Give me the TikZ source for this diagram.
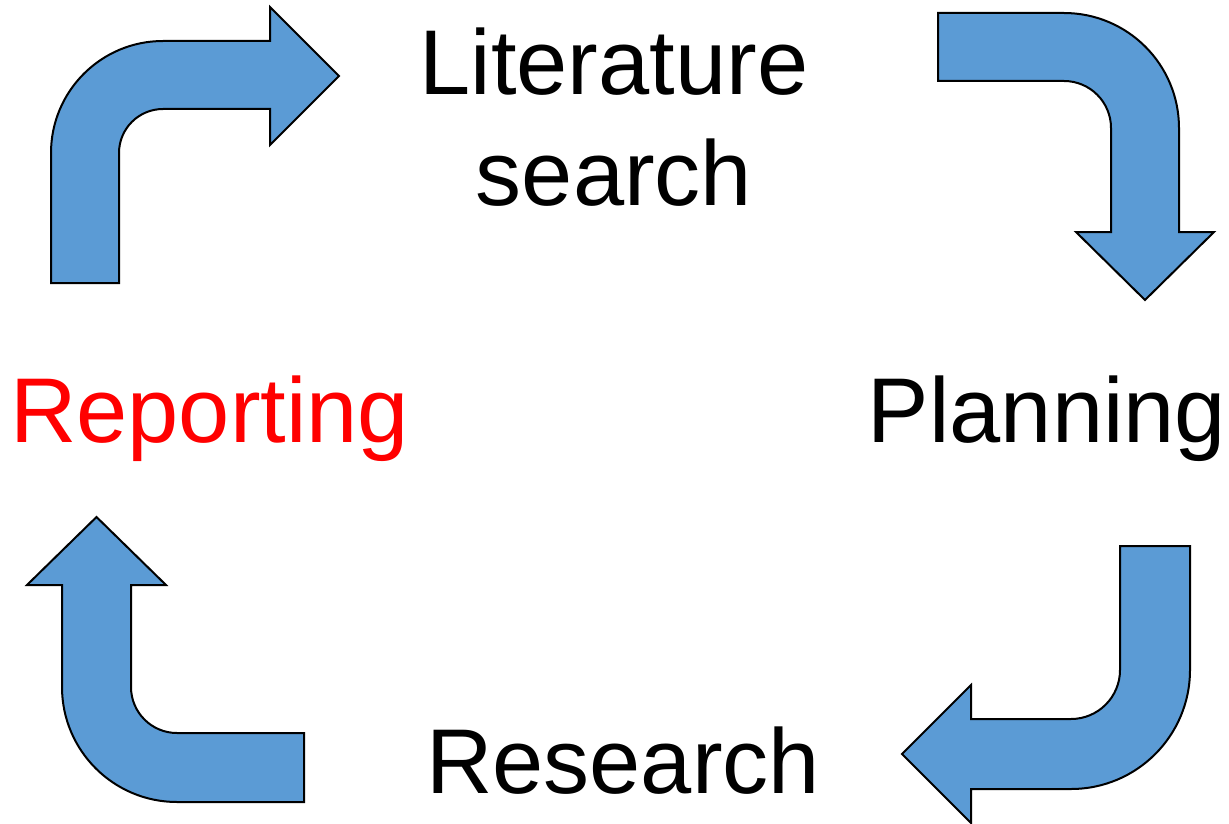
\documentclass[tikz,border=0pt]{standalone}
\usepackage{fontspec}
\setmainfont{Liberation Sans}
\definecolor{arrowblue}{RGB}{91,155,213}
\definecolor{labelred}{RGB}{255,0,0}
\begin{document}
\begin{tikzpicture}[x=1pt,y=-1pt,
  bentarrow/.style={fill=arrowblue,draw=black,line width=2pt,line join=miter},
  label/.style={inner sep=0pt,font=\fontsize{92}{111.5}\selectfont}]
\useasboundingbox (0,0) rectangle (1229,824);
% top-left arrow
\draw[bentarrow] (51,283) -- (51,153) arc[start angle=180,end angle=270,radius=112]
  -- (270,41) -- (270,7) -- (339,76) -- (270,145) -- (270,109) -- (163,109)
  arc[start angle=270,end angle=180,radius=44] -- (119,283) -- cycle;
% top-right arrow
\draw[bentarrow] (938,13) -- (1064,13) arc[start angle=270,end angle=360,radius=115]
  -- (1179,232) -- (1214,232) -- (1145,300) -- (1076,232) -- (1111,232) -- (1111,128)
  arc[start angle=0,end angle=-90,radius=47] -- (938,81) -- cycle;
% bottom-right arrow
\draw[bentarrow] (1120,546) -- (1190,546) -- (1190,670) arc[start angle=0,end angle=90,radius=119]
  -- (971,789) -- (971,823) -- (902,754) -- (971,685) -- (971,719) -- (1071,719)
  arc[start angle=90,end angle=0,radius=49] -- cycle;
% bottom-left arrow
\draw[bentarrow] (304,802) -- (177,802) arc[start angle=90,end angle=180,radius=115]
  -- (62,585) -- (27,585) -- (96.5,517) -- (166,585) -- (131,585) -- (131,687)
  arc[start angle=180,end angle=90,radius=46] -- (304,733) -- cycle;
% labels
\node[label,align=center,anchor=base] (lit) at (614,205.5) {Literature\\search};
\node[label,anchor=base] (plan) at (1047,442) {Planning};
\node[label,anchor=base] (res) at (623,793) {Research};
\node[label,anchor=base west,text=labelred] (rep) at (10,442) {Reporting};
\end{tikzpicture}
\end{document}
